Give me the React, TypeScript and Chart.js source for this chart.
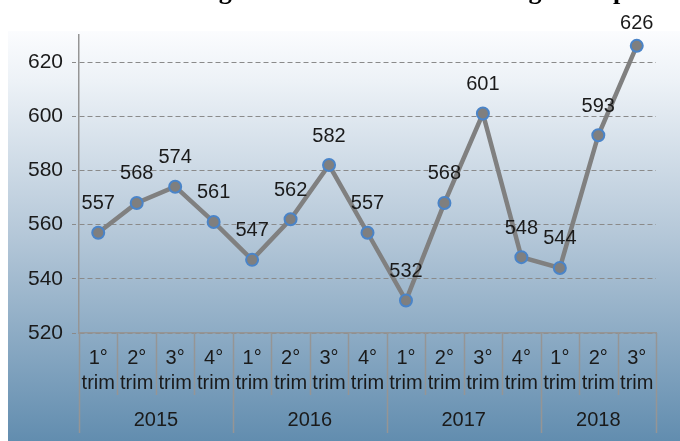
import React, { useEffect, useRef } from "react";
import { Chart, registerables } from "chart.js";

Chart.register(...registerables);

const titleText = "Grafico 7: Serie degli andamenti trimestrali degli occupati";
const years = ["2015", "2016", "2017", "2018"];
const quartersPerYear = [4, 4, 4, 3];
const quarterLabels = ["1°", "2°", "3°", "4°", "1°", "2°", "3°", "4°", "1°", "2°", "3°", "4°", "1°", "2°", "3°"];
const occupati = [557, 568, 574, 561, 547, 562, 582, 557, 532, 568, 601, 548, 544, 593, 626];
const yMin = 520;
const yMax = 630;
const yStep = 20;

const FONT = "'Liberation Sans', Arial, sans-serif";
const TEXT = "#1a1a1a";
const LINE_GRAY = "#959595";

const bgPlugin = {
  id: "bgPlugin",
  beforeDraw(chart: any) {
    const { ctx, width, height } = chart;
    ctx.save();
    ctx.fillStyle = "#ffffff";
    ctx.fillRect(0, 0, width, height);
    const top = 31;
    const g = ctx.createLinearGradient(0, top, 0, height);
    g.addColorStop(0, "#fbfcfe");
    g.addColorStop(0.12, "#edf2f7");
    g.addColorStop(0.5, "#b4c7d8");
    g.addColorStop(1, "#628daf");
    ctx.fillStyle = g;
    ctx.fillRect(8, top, width - 8, height - top);
    ctx.fillStyle = "#000";
    ctx.font = "bold 26px 'Liberation Serif', 'Times New Roman', serif";
    ctx.textBaseline = "alphabetic";
    ctx.textAlign = "left";
    ctx.fillText(titleText, 10, -1);
    ctx.restore();
  },
  afterDraw(chart: any) {
    const { ctx, chartArea } = chart;
    const xs = chart.scales.x;
    const half = (xs.getPixelForValue(1) - xs.getPixelForValue(0)) / 2;
    const bottom = chartArea.bottom;
    ctx.save();
    ctx.strokeStyle = LINE_GRAY;
    ctx.lineWidth = 1.5;
    const yearBounds: number[] = [0];
    let acc = 0;
    quartersPerYear.forEach((n) => {
      acc += n;
      yearBounds.push(acc);
    });
    for (let b = 0; b <= quarterLabels.length; b++) {
      const x = Math.round(xs.getPixelForValue(Math.min(b, quarterLabels.length - 1)) + (b === quarterLabels.length ? half : -half)) + 0.5;
      const isYear = yearBounds.includes(b);
      ctx.beginPath();
      ctx.moveTo(x, bottom);
      ctx.lineTo(x, isYear ? 433 : 395);
      ctx.stroke();
    }
    ctx.fillStyle = TEXT;
    ctx.font = `20px ${FONT}`;
    ctx.textAlign = "center";
    ctx.textBaseline = "middle";
    years.forEach((yr, i) => {
      const s = yearBounds[i];
      const e = yearBounds[i + 1] - 1;
      const cx = (xs.getPixelForValue(s) + xs.getPixelForValue(e)) / 2;
      ctx.fillText(yr, cx, 420);
    });
    ctx.restore();
  },
  afterDatasetsDraw(chart: any) {
    const { ctx } = chart;
    const meta = chart.getDatasetMeta(0);
    ctx.save();
    ctx.fillStyle = TEXT;
    ctx.font = `20px ${FONT}`;
    ctx.textAlign = "center";
    ctx.textBaseline = "middle";
    meta.data.forEach((pt: any, i: number) => {
      const y = Math.max(pt.y - 29, 23);
      ctx.fillText(String(occupati[i]), pt.x, y);
    });
    ctx.restore();
  },
};

export default function App() {
  const ref = useRef<HTMLCanvasElement | null>(null);
  useEffect(() => {
    if (!ref.current) return;
    const labels = quarterLabels.map((q) => [q, "trim"]);
    const chart = new Chart(ref.current, {
      type: "line",
      data: {
        labels,
        datasets: [
          {
            data: occupati,
            borderColor: "#808080",
            borderWidth: 4.5,
            pointRadius: 6,
            pointHoverRadius: 6,
            pointBackgroundColor: "#7f7f7f",
            pointBorderColor: "#4a84c8",
            pointBorderWidth: 2,
            tension: 0,
          },
        ],
      },
      options: {
        animation: false,
        responsive: false,
        devicePixelRatio: 1,
        layout: { padding: { top: 35, right: 24, left: 0, bottom: 0 } },
        plugins: { legend: { display: false }, tooltip: { enabled: false }, title: { display: false } },
        scales: {
          x: {
            type: "category",
            offset: true,
            grid: { display: false, drawTicks: false },
            border: { display: true, color: LINE_GRAY, width: 1.5 },
            ticks: {
              autoSkip: false,
              maxRotation: 0,
              minRotation: 0,
              padding: 13,
              color: TEXT,
              font: { family: FONT, size: 20, lineHeight: 1.25 },
            },
            afterFit(scale: any) {
              scale.height = 108;
            },
          },
          y: {
            min: yMin,
            max: yMax,
            grid: {
              color: "#8a8a8a",
              lineWidth: 1,
              tickLength: 7,
              tickColor: "#8a8a8a",
              tickBorderDash: [4, 3],
            },
            border: { display: true, color: LINE_GRAY, width: 1.5, dash: [5, 3] },
            ticks: {
              stepSize: yStep,
              includeBounds: false,
              padding: 9,
              color: TEXT,
              font: { family: FONT, size: 21 },
            },
            afterFit(scale: any) {
              scale.width = 79;
            },
          },
        },
      },
      plugins: [bgPlugin],
    });
    return () => chart.destroy();
  }, []);
  return (
    <div style={{ position: "absolute", left: 0, top: 0, width: 680, height: 441 }}>
      <canvas ref={ref} width={680} height={441} style={{ display: "block", width: 680, height: 441 }} />
    </div>
  );
}
